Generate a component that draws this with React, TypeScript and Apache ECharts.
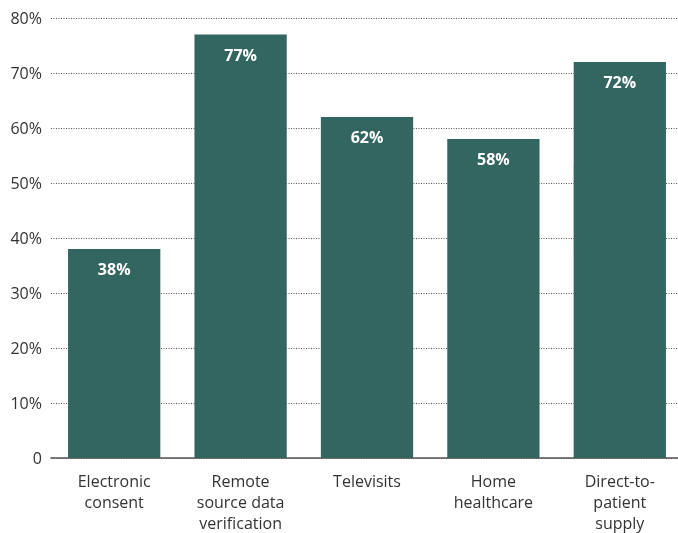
import React, { useEffect, useRef } from "react";
import * as echarts from "echarts";

const categories = [
  "Electronic\nconsent",
  "Remote\nsource data\nverification",
  "Televisits",
  "Home\nhealthcare",
  "Direct-to-\npatient\nsupply",
];
const values = [38, 77, 62, 58, 72];

export default function App() {
  const ref = useRef<HTMLDivElement>(null);
  useEffect(() => {
    const chart = echarts.init(ref.current!, null, { renderer: "svg" });
    chart.setOption({
      animation: false,
      textStyle: { fontFamily: "Open Sans" },
      grid: { left: 51, right: 0, top: 18, bottom: 71, containLabel: false },
      xAxis: {
        type: "category",
        data: categories,
        axisTick: { show: false },
        axisLine: { lineStyle: { color: "#555", width: 1.5 } },
        axisLabel: {
          color: "#333",
          fontSize: 16,
          lineHeight: 21,
          margin: 12,
          interval: 0,
          fontFamily: "Open Sans",
        },
      },
      yAxis: {
        type: "value",
        min: 0,
        max: 80,
        interval: 10,
        axisLine: { show: false },
        axisTick: { show: false },
        axisLabel: {
          color: "#333",
          fontSize: 16,
          margin: 9,
          fontFamily: "Open Sans",
          formatter: (v: number) => (v === 0 ? "0" : v + "%"),
        },
        splitLine: { lineStyle: { color: "#555", type: [1, 1.5], width: 1 } },
      },
      series: [
        {
          type: "bar",
          data: values,
          barCategoryGap: "27%",
          itemStyle: { color: "#336660" },
          label: {
            show: true,
            position: "insideTop",
            distance: 12,
            color: "#fff",
            fontWeight: "bold",
            fontSize: 16,
            fontFamily: "Open Sans",
            formatter: (p: any) => p.value + "%",
          },
        },
      ],
    });
    return () => chart.dispose();
  }, []);
  return (
    <div
      ref={ref}
      style={{ position: "fixed", left: 0, top: 0, width: 683, height: 533 }}
    />
  );
}
